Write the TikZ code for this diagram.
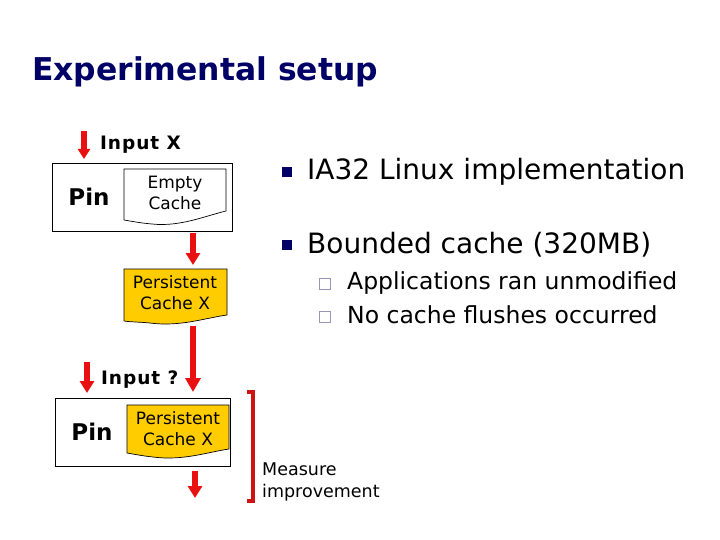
\documentclass[tikz,border=0pt]{standalone}
\usepackage{fontspec}
\setmainfont{DejaVu Sans}
\newfontfamily\inputfont[LetterSpace=5]{DejaVu Sans Bold}
\usetikzlibrary{arrows.meta}
\definecolor{navy}{RGB}{0,0,102}
\definecolor{arrowred}{RGB}{232,16,16}
\definecolor{brackred}{RGB}{205,20,20}
\definecolor{gold}{RGB}{255,204,0}
\definecolor{subsq}{RGB}{150,150,185}
\tikzset{
  txt/.style={inner sep=0pt, anchor=base west},
  ctr/.style={inner sep=0pt, align=center, font=\fontsize{17}{21}\selectfont},
  redarrow/.style={draw=arrowred, line width=5.5pt, -{Triangle[width=14pt,length=12pt]}},
  boxframe/.style={draw=black, line width=0.9pt, fill=white},
  docwhite/.style={draw=black, line width=0.7pt, fill=white},
  docgold/.style={draw=black, line width=0.7pt, fill=gold},
  mainbullet/.style={fill=navy, draw=none},
  subbullet/.style={draw=subsq, line width=1pt, fill=white},
}
\begin{document}
\begin{tikzpicture}[x=1pt,y=-1pt]
\useasboundingbox (0,0) rectangle (720,540);
\fill[white] (0,0) rectangle (720,540);

% title
\node[txt, text=navy, font=\bfseries\fontsize{31.4}{37}\selectfont] (title) at (32,81) {Experimental setup};

% ---- first stage ----
\node[txt, font=\inputfont\fontsize{18.5}{22}\selectfont] (inx) at (100,150) {Input X};
\coordinate (a1s) at (84,131);
\coordinate (a1e) at (84,159);
\draw[redarrow, -{Triangle[width=12pt,length=10pt]}] (a1s) -- (a1e);

\draw[boxframe] (52,163) rectangle (232,231);
\node[inner sep=0pt, font=\bfseries\fontsize{23}{27}\selectfont] (pin1) at (89,197) {Pin};
\draw[docwhite] (124,169) -- (226,169) -- (226,211)
   .. controls (205,216) and (180,227) .. (152,224)
   .. controls (140,223) and (130,221) .. (124,220) -- cycle;
\node[ctr] (empty) at (175,193) {Empty\\Cache};

\coordinate (a2s) at (193,233);
\coordinate (a2e) at (193,265);
\draw[redarrow] (a2s) -- (a2e);

\draw[docgold] (124,269) -- (227,269) -- (227,315)
   .. controls (205,318) and (180,327) .. (150,323)
   .. controls (140,322) and (130,322) .. (124,321) -- cycle;
\node[ctr] (pc1) at (175,293) {Persistent\\Cache X};

\coordinate (a3s) at (193,326);
\coordinate (a3e) at (193,392);
\draw[redarrow, -{Triangle[width=15pt,length=14pt]}] (a3s) -- (a3e);

% ---- second stage ----
\node[txt, font=\inputfont\fontsize{18.5}{22}\selectfont] (inq) at (101,384) {Input ?};
\coordinate (a4s) at (87,362);
\coordinate (a4e) at (87,393);
\draw[redarrow] (a4s) -- (a4e);

\draw[boxframe] (55,398) rectangle (230,466);
\node[inner sep=0pt, font=\bfseries\fontsize{23}{27}\selectfont] (pin2) at (92,432) {Pin};
\draw[docgold] (127,405) -- (229,405) -- (229,449)
   .. controls (208,452) and (183,461) .. (153,457)
   .. controls (143,456) and (133,454) .. (127,453) -- cycle;
\node[ctr] (pc2) at (178,429) {Persistent\\Cache X};

\coordinate (a5s) at (195,471);
\coordinate (a5e) at (195,498);
\draw[redarrow] (a5s) -- (a5e);

% bracket
\coordinate (b1) at (247,392);
\coordinate (b2) at (253,392);
\coordinate (b3) at (253,501);
\coordinate (b4) at (247,501);
\draw[brackred, line width=4pt] (b1) -- (b2) -- (b3) -- (b4);
\node[txt, align=left, font=\fontsize{17.5}{22}\selectfont] (meas) at (262,497) {Measure\\improvement};

% ---- right side bullets ----
\fill[mainbullet] (282,167) rectangle (292,177);
\node[txt, font=\fontsize{28}{33}\selectfont] (b1t) at (307,180) {IA32 Linux implementation};
\fill[mainbullet] (282,240) rectangle (292,250);
\node[txt, font=\fontsize{28}{33}\selectfont] (b2t) at (307,253) {Bounded cache (320MB)};

\draw[subbullet] (319,278) rectangle (330,289);
\node[txt, font=\fontsize{23.5}{28}\selectfont] (s1t) at (347,289) {Applications ran unmodified};
\draw[subbullet] (319,311) rectangle (330,322);
\node[txt, font=\fontsize{23.5}{28}\selectfont] (s2t) at (347,323) {No cache flushes occurred};
\end{tikzpicture}
\end{document}
